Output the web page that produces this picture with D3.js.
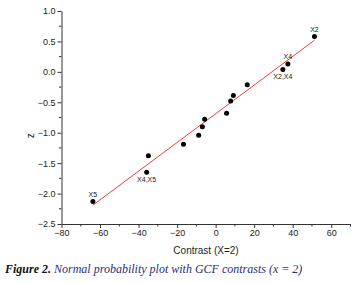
<!DOCTYPE html>
<html>
<head>
<meta charset="utf-8">
<script src="https://cdn.jsdelivr.net/npm/d3@7"></script>
<style>
	body { margin: 0; background: #fff; }
	svg { display: block; }
	.tick text { font-family: "Liberation Sans", Arial, sans-serif; }
</style>
</head>
<body>
<div id="chart"></div>
<script>
// normal probability plot data (contrast, z)
const contrasts = [51.3, 37.5, 34.9, 16.4, 9.2, 7.8, 5.7, -5.7, -6.9, -8.8, -16.7, -34.9, -35.8, -63.7];
const zScores = [0.58, 0.13, 0.04, -0.21, -0.39, -0.48, -0.68, -0.78, -0.90, -1.04, -1.19, -1.38, -1.65, -2.13];

// labelled points: index into arrays above
const pointLabels = [
	{idx: 0, text: "X2", pos: "above"},
	{idx: 1, text: "X4", pos: "above"},
	{idx: 2, text: "X2,X4", pos: "below"},
	{idx: 12, text: "X4,X5", pos: "below"},
	{idx: 13, text: "X5", pos: "above"}
];

// fitted line
const fitX = [-63.7, 51.3];
const fitY = [-2.19, 0.52];

const xTicks = [-80, -60, -40, -20, 0, 20, 40, 60];
const yTicks = [-2.5, -2.0, -1.5, -1.0, -0.5, 0.0, 0.5, 1.0];

const width = 357, height = 283;

const svg = d3.select("#chart").append("svg")
	.attr("width", width)
	.attr("height", height);

svg.append("rect").attr("width", width).attr("height", height).attr("fill", "#fff");

const x = d3.scaleLinear().domain([-80, 70]).range([61.5, 350.5]);
const y = d3.scaleLinear().domain([-2.5, 1.0]).range([224, 11]);

const axisColor = "#333";

// minor ticks
const xMinor = d3.range(-70, 71, 20);
const yMinor = d3.range(-2.25, 1.0, 0.5);

const xAxisG = svg.append("g")
	.attr("transform", `translate(0,${y(-2.5)})`)
	.call(d3.axisBottom(x).tickValues(xTicks).tickFormat(d3.format("d")).tickSize(4).tickPadding(2).tickSizeOuter(0));
xAxisG.append("g").selectAll("line")
	.data(xMinor)
	.join("line")
	.attr("x1", d => x(d)).attr("x2", d => x(d))
	.attr("y1", 0).attr("y2", 2.5)
	.attr("stroke", axisColor);

const yAxisG = svg.append("g")
	.attr("transform", `translate(${x(-80)},0)`)
	.call(d3.axisLeft(y).tickValues(yTicks).tickFormat(d3.format(".1f")).tickSize(4).tickPadding(2).tickSizeOuter(0));
yAxisG.append("g").selectAll("line")
	.data(yMinor)
	.join("line")
	.attr("y1", d => y(d)).attr("y2", d => y(d))
	.attr("x1", 0).attr("x2", -2.5)
	.attr("stroke", axisColor);

[xAxisG, yAxisG].forEach(g => {
	g.select(".domain").attr("stroke", axisColor);
	g.selectAll(".tick line").attr("stroke", axisColor);
	g.selectAll(".tick text").attr("fill", "#222").style("font-size", "9px");
});

// axis titles
svg.append("text")
	.attr("x", 206)
	.attr("y", 254)
	.attr("text-anchor", "middle")
	.style("font-family", "Liberation Sans, Arial, sans-serif")
	.style("font-size", "10px")
	.attr("fill", "#222")
	.text("Contrast (X=2)");

svg.append("text")
	.attr("transform", `translate(34,${y(-1.05)}) rotate(-90)`)
	.attr("text-anchor", "middle")
	.style("font-family", "Liberation Sans, Arial, sans-serif")
	.style("font-size", "10px")
	.attr("fill", "#222")
	.text("z");

// fitted line
svg.append("line")
	.attr("x1", x(fitX[0])).attr("y1", y(fitY[0]))
	.attr("x2", x(fitX[1])).attr("y2", y(fitY[1]))
	.attr("stroke", "#f04040")
	.attr("stroke-width", 1);

// points
svg.append("g").selectAll("circle")
	.data(contrasts.map((c, i) => [c, zScores[i]]))
	.join("circle")
	.attr("cx", d => x(d[0]))
	.attr("cy", d => y(d[1]))
	.attr("r", 2.5)
	.attr("fill", "#000");

// point labels
svg.append("g").selectAll("text")
	.data(pointLabels)
	.join("text")
	.attr("x", d => x(contrasts[d.idx]))
	.attr("y", d => y(zScores[d.idx]) + (d.pos == "above" ? -4.5 : 9.5))
	.attr("text-anchor", "middle")
	.style("font-family", "Liberation Sans, Arial, sans-serif")
	.style("font-size", "7px")
	.attr("fill", "#222")
	.text(d => d.text);

// caption
const caption = svg.append("text")
	.attr("x", 5)
	.attr("y", 273)
	.style("font-family", "Liberation Serif, Times New Roman, serif")
	.style("font-size", "12px")
	.style("font-style", "italic");
caption.append("tspan")
	.attr("font-weight", "bold")
	.attr("fill", "#111")
	.text("Figure 2.");
caption.append("tspan")
	.attr("fill", "#1f2f80")
	.text(" Normal probability plot with GCF contrasts (x = 2)");
</script>
</body>
</html>
